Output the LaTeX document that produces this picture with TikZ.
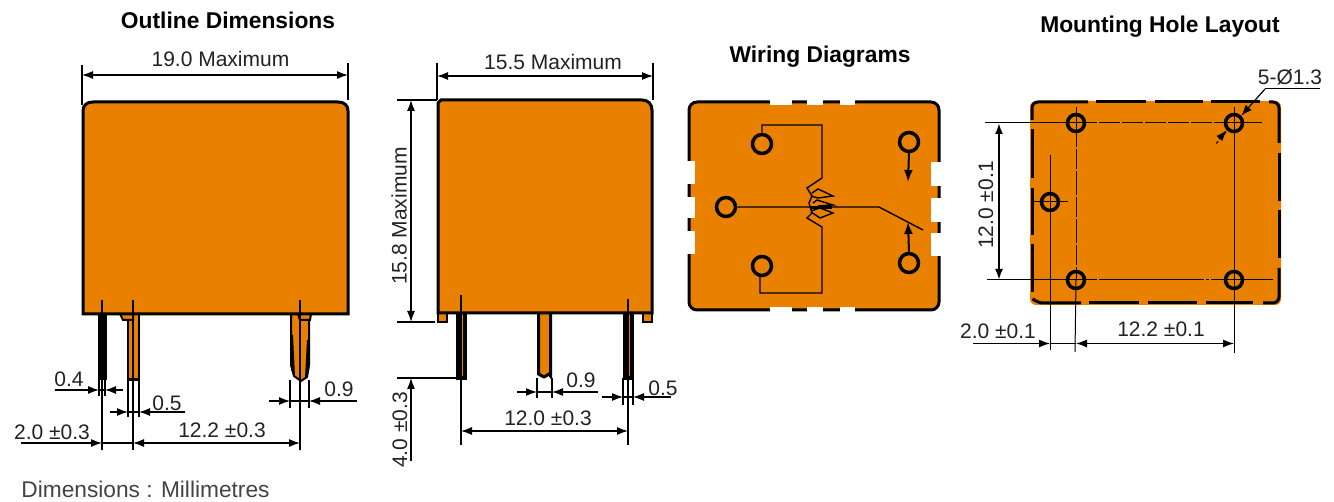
\documentclass[tikz,border=0pt]{standalone}
\usepackage{fontspec}
\setmainfont{Liberation Sans}
\usetikzlibrary{arrows.meta}
\definecolor{relayorange}{HTML}{E98000}
\definecolor{inkgray}{HTML}{222222}
\begin{document}
\begin{tikzpicture}[x=1pt,y=-1pt,line join=miter,
	body/.style={draw=black,fill=relayorange,line width=3pt},
	dimline/.style={draw=black,line width=1.2pt},
	thinline/.style={draw=black,line width=1pt},
	edge/.style={draw=black,line width=3pt,rounded corners=6pt},
	dimtip/.style={dimline,-{Latex[length=11pt,width=8pt]}},
	dimtips/.style={dimline,{Latex[length=11pt,width=8pt]}-{Latex[length=11pt,width=8pt]}},
	label/.style={inner sep=0pt,text=inkgray,font=\fontsize{21}{24}\selectfont},
	heading/.style={inner sep=0pt,text=black,font=\fontsize{22.8}{26}\selectfont\bfseries},
	terminal/.style={circle,draw=black,line width=3.5pt,fill=relayorange,minimum size=19pt,inner sep=0pt},
	hole/.style={circle,draw=black,line width=3.5pt,minimum size=17pt,inner sep=0pt},
	notch/.style={fill=white,draw=none}]
	\useasboundingbox (0,0) rectangle (1334,502);

	% headings
	\node[heading] (outline) at (228,20) {Outline Dimensions};
	\node[heading] (wiring) at (820,57) {Wiring Diagrams};
	\node[heading] (mounting) at (1160,27) {Mounting Hole Layout};
	\node[inner sep=0pt,text=inkgray!85,font=\fontsize{22.7}{26}\selectfont] (units) at (145.5,489) {Dimensions : Millimetres};

	% side view, 19.0 wide
	\fill[black] (98,314) rectangle (107,380);
	\draw[body,line width=2pt] (128,314) rectangle (139,380);
	\draw[black,line width=3pt] (128,380) -- (139,380);
	\draw[body,line width=2pt] (291,314) -- (291,365) -- (294,376) -- (301,381) -- (307,377) -- (309,365) -- (309,314) -- cycle;
	\fill[black] (291,335) -- (293,335) -- (295,376) -- (291,370) -- cycle;
	\fill[black] (307,340) -- (309,340) -- (309,370) -- (305,378) -- cycle;
	\draw[body,line width=2pt] (120,314) -- (123,320) -- (133,320) -- (133,314);
	\draw[body,line width=2pt] (298,314) -- (300,320) -- (310,320) -- (311,314);
	\draw[body] (83,314) -- (83,111) .. controls (83,105) and (87,102) .. (93,102) -- (338,102) .. controls (344,102) and (348,105) .. (348,111) -- (348,314) -- cycle;
	\foreach \px/\ytop/\yend in {102/300/450,133/300/450,300/300/450}
		\draw[dimline] (\px,\ytop) -- (\px,\yend);
	\foreach \px/\yend in {99/396,105/396,128/417,139/417,290/408,309/408}
		\draw[dimline] (\px,380) -- (\px,\yend);
	\draw[dimline] (82,65) -- (82,105);
	\draw[dimline] (348,63) -- (348,100);
	\draw[dimtips] (82,75) -- (348,75);
	\draw[dimtip] (55,390) -- (99,390);
	\draw[dimtip] (123,390) -- (105,390);
	\draw[dimline] (99,390) -- (105,390);
	\draw[dimtip] (110,412) -- (128,412);
	\draw[dimtip] (185,412) -- (139,412);
	\draw[dimline] (128,412) -- (139,412);
	\draw[dimtip] (269,401) -- (290,401);
	\draw[dimtip] (357,401) -- (309,401);
	\draw[dimline] (290,401) -- (309,401);
	\draw[dimtip] (21,443) -- (102,443);
	\draw[dimline] (102,443) -- (133,443);
	\draw[dimtips] (133,443) -- (300,443);
	\node[label] (widthA) at (220.5,59) {19.0 Maximum};
	\node[label] (pinA) at (69,379) {0.4};
	\node[label] (pinB) at (167,403) {0.5};
	\node[label] (pinC) at (339,389) {0.9};
	\node[label] (offsetA) at (52,432) {2.0 ±0.3};
	\node[label] (pitchA) at (222,430) {12.2 ±0.3};

	% side view, 15.5 wide
	\draw[body,line width=2pt] (438,312) rectangle (447,322);
	\draw[body,line width=2pt] (643,312) rectangle (652,322);
	\draw[body,line width=3.5pt] (458,312) rectangle (465,378);
	\draw[body,line width=3.5pt] (625,312) rectangle (632,378);
	\draw[body] (538.5,312) -- (538.5,374) -- (544,377) -- (549,374) -- (550.5,376) -- (550.5,312);
	\draw[body] (438,313) -- (438,103) -- (441,100) -- (642,100) .. controls (648,100) and (652,104) .. (652,110) -- (652,313) -- cycle;
	\draw[dimline] (461,295) -- (461,445);
	\draw[dimline] (628,299) -- (628,445);
	\foreach \px/\yend in {537/398,552/398,623/405,633/405}
		\draw[dimline] (\px,378) -- (\px,\yend);
	\draw[dimline] (437,63) -- (437,100);
	\draw[dimline] (653,63) -- (653,100);
	\draw[dimtips] (437,76) -- (653,76);
	\draw[dimline] (397,100) -- (437,100);
	\draw[dimline] (397,322) -- (435,322);
	\draw[dimline] (397,378) -- (456,378);
	\draw[dimtips] (411,100) -- (411,322);
	\draw[dimtip] (411,461) -- (411,378);
	\draw[dimtip] (517,392) -- (537,392);
	\draw[dimtip] (598,392) -- (552,392);
	\draw[dimline] (537,392) -- (552,392);
	\draw[dimtip] (602,397) -- (623,397);
	\draw[dimtip] (671,397) -- (633,397);
	\draw[dimline] (623,397) -- (633,397);
	\draw[dimtips] (461,431) -- (628,431);
	\node[label] (widthB) at (553,62) {15.5 Maximum};
	\node[label,rotate=90] (heightB) at (399,216) {15.8 Maximum};
	\node[label,rotate=90] (legB) at (400,430) {4.0 ±0.3};
	\node[label] (pinD) at (581,380) {0.9};
	\node[label] (pinE) at (663,388) {0.5};
	\node[label] (pitchB) at (548,418) {12.0 ±0.3};

	% wiring diagram
	\draw[body,rounded corners=8pt] (689,102) rectangle (939,310);
	\foreach \xa/\xb in {770/792,807/823,840/855} {
		\fill[notch] (\xa,99) rectangle (\xb,105);
		\fill[notch] (\xa,307) rectangle (\xb,313);
	}
	\foreach \ya/\yb in {161/184,197/218,231/254}
		\fill[notch] (686,\ya) rectangle (695,\yb);
	\foreach \ya/\yb in {162/186,198/222,233/256}
		\fill[notch] (931,\ya) rectangle (942,\yb);
	\node[terminal] (coilA) at (762,144) {};
	\node[terminal] (common) at (726,207) {};
	\node[terminal] (coilB) at (762,266) {};
	\node[terminal] (contactA) at (909,142) {};
	\node[terminal] (contactB) at (909,263) {};
	\coordinate (pivot) at (879,207);
	\draw[line width=1.4pt] (coilA.north) -- (762,125) -- (822,125) -- (822,178)
		-- (807,188) -- (812,196) -- (809,203) -- (812,213) -- (807,218) -- (822,227)
		-- (822,293) -- (760,293) -- (760,276);
	\draw[line width=1.4pt] (812,193) -- (818,189) -- (833,196) -- (818,198) -- (811,196);
	\draw[line width=1.4pt] (813,203) -- (817,200) -- (833,205) -- (818,206);
	\draw[line width=1.4pt] (811,211) -- (820,208) -- (833,213) -- (820,218) -- (811,212);
	\draw[line width=1.4pt] (common.east) -- (pivot) -- (923,230);
	\draw[line width=3pt] (811,208) -- (832,208);
	\draw[line width=2pt,-{Latex[length=12pt,width=9pt]}] (contactA.south) -- (908,182);
	\draw[line width=2pt,-{Latex[length=12pt,width=9pt]}] (contactB.north) -- (908,222);

	% mounting hole layout
	\fill[relayorange,rounded corners=6pt] (1030,101) rectangle (1281,305);
	\draw[edge] (1032,120) -- (1032,102) -- (1088,102);
	\draw[edge] (1269,102) -- (1279,102) -- (1279,143);
	\draw[edge] (1279,268) -- (1279,303) -- (1263,303);
	\draw[edge] (1081,303) -- (1037,303) -- (1034,300);
	\foreach \xa/\xb in {1096/1146,1155/1203,1211/1260}
		\draw[edge] (\xa,102) -- (\xb,102);
	\foreach \xa/\xb in {1089/1139,1148/1197,1206/1253}
		\draw[edge] (\xa,303) -- (\xb,303);
	\foreach \ya/\yb in {129/178,188/235,244/292}
		\draw[edge] (1032,\ya) -- (1032,\yb);
	\foreach \ya/\yb in {153/201,210/258}
		\draw[edge] (1279,\ya) -- (1279,\yb);
	\node[hole] (holeA) at (1076,123) {};
	\node[hole] (holeB) at (1234,123) {};
	\node[hole] (holeC) at (1050,202) {};
	\node[hole] (holeD) at (1076,280) {};
	\node[hole] (holeE) at (1234,280) {};
	\coordinate (leader) at (1265,89);
	\draw[thinline] (985,123) -- (holeA.center);
	\draw[thinline,dash pattern=on 21pt off 2pt] (holeA.center) -- (holeB.center);
	\draw[thinline] (holeB.center) -- (1262,123);
	\draw[thinline] (987,280) -- (holeD.center);
	\draw[thinline,dash pattern=on 21pt off 2pt on 105pt off 2pt on 3pt off 2pt on 25pt] (holeD.center) -- (holeE.center);
	\draw[thinline] (holeE.center) -- (1273,280);
	\draw[thinline] (1076,107) -- (holeA.center);
	\draw[thinline,dash pattern=on 24pt off 2pt on 20pt off 2pt] (holeA.center) -- (holeD.center);
	\draw[thinline] (holeD.center) -- (1075,352);
	\draw[thinline] (1234,107) -- (holeB.center) -- (holeE.center) -- (1234,353);
	\draw[thinline] (1050,155) -- (holeC.center) -- (1050,350);
	\draw[thinline] (1032,202) -- (1068,202);
	\draw[thinline] (1320,89) -- (leader);
	\draw[dimtip] (leader) -- (holeB.45);
	\draw[thinline,dashed] (1226,132) -- (1215,145);
	\draw[dimtip] (1219,139) -- (holeB.225);
	\draw[dimline,line width=2pt,{Latex[length=11pt,width=8pt]}-{Latex[length=11pt,width=8pt]}] (999,123) -- (999,280);
	\draw[dimtip] (973,343.5) -- (1050,343.5);
	\draw[dimline] (1050,343.5) -- (1076,343.5);
	\draw[dimtips] (1076,343.5) -- (1234,343.5);
	\node[label] (holeSize) at (1290,77) {5-Ø1.3};
	\node[label,rotate=90] (holeRows) at (986,205) {12.0 ±0.1};
	\node[label] (holeOffset) at (998,331) {2.0 ±0.1};
	\node[label] (holeCols) at (1161,329) {12.2 ±0.1};
\end{tikzpicture}
\end{document}
